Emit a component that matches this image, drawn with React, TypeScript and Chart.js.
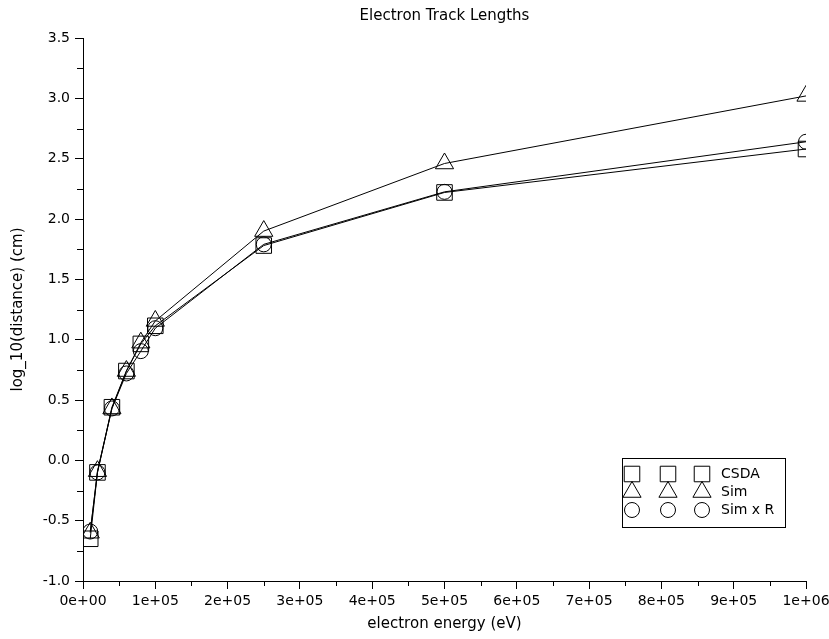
import React, { useEffect, useRef } from 'react';
import { Chart, registerables } from 'chart.js';
import { drawPoint } from 'chart.js/helpers';

Chart.register(...registerables);

// ---- data ----
const energies = [1e4, 2e4, 4e4, 6e4, 8e4, 1e5, 2.5e5, 5e5, 1e6];
const csdaValues = [-0.65, -0.1, 0.44, 0.74, 0.965, 1.115, 1.78, 2.22, 2.58];
const simValues = [-0.6, -0.09, 0.43, 0.74, 0.975, 1.155, 1.9, 2.46, 3.02];
const simRValues = [-0.59, -0.1, 0.43, 0.72, 0.905, 1.095, 1.79, 2.225, 2.64];
const seriesLabels = ['CSDA', 'Sim', 'Sim x R'];
const seriesStyles = ['rect', 'triangle', 'circle'];
const seriesRadius = [11, 10.5, 7.5];

const xTickLabels = ['0e+00', '1e+05', '2e+05', '3e+05', '4e+05', '5e+05', '6e+05', '7e+05', '8e+05', '9e+05', '1e+06'];
const yTickLabels = ['-1.0', '-0.5', '0.0', '0.5', '1.0', '1.5', '2.0', '2.5', '3.0', '3.5'];
const xMin = 0, xMax = 1e6, xStep = 1e5;
const yMin = -1, yMax = 3.5, yStep = 0.5;

const FONT = 'DejaVu Sans';

const minorTicks = {
  id: 'minorTicks',
  afterDraw(chart: any) {
    const { ctx, chartArea, scales } = chart;
    ctx.save();
    ctx.strokeStyle = '#000';
    ctx.lineWidth = 1;
    const xs = scales.x;
    for (let i = 0; i < xTickLabels.length - 1; i++) {
      const px = Math.round(xs.getPixelForValue(xMin + (i + 0.5) * xStep)) + 0.5;
      ctx.beginPath();
      ctx.moveTo(px, chartArea.bottom);
      ctx.lineTo(px, chartArea.bottom + 5);
      ctx.stroke();
    }
    const ys = scales.y;
    for (let i = 0; i < yTickLabels.length - 1; i++) {
      const py = Math.round(ys.getPixelForValue(yMin + (i + 0.5) * yStep)) + 0.5;
      ctx.beginPath();
      ctx.moveTo(chartArea.left, py);
      ctx.lineTo(chartArea.left - 6, py);
      ctx.stroke();
    }
    ctx.restore();
  },
};

const boxLegend = {
  id: 'boxLegend',
  afterDraw(chart: any) {
    const { ctx, chartArea } = chart;
    const right = chartArea.right - 21;
    const bottom = chartArea.bottom - 54;
    const w = 163, h = 69;
    const left = right - w, top = bottom - h;
    ctx.save();
    ctx.fillStyle = '#fff';
    ctx.fillRect(left, top, w, h);
    ctx.strokeStyle = '#000';
    ctx.lineWidth = 1;
    ctx.strokeRect(Math.round(left) + 0.5, Math.round(top) + 0.5, w, h);
    const cols = [10, 46, 80];
    chart.data.datasets.forEach((ds: any, i: number) => {
      const y = top + 16 + i * 18;
      ctx.strokeStyle = '#000';
      ctx.fillStyle = 'rgba(0,0,0,0)';
      ctx.lineWidth = 1;
      cols.forEach((c) => {
        drawPoint(ctx, { pointStyle: ds.pointStyle, radius: ds.pointRadius, rotation: 0, borderWidth: 1 } as any, left + c, y);
      });
      ctx.fillStyle = '#000';
      ctx.font = `14px "${FONT}"`;
      ctx.textBaseline = 'middle';
      ctx.textAlign = 'left';
      ctx.fillText(ds.label, left + 99, y);
    });
    ctx.restore();
  },
};

export default function App() {
  const ref = useRef<HTMLCanvasElement | null>(null);
  useEffect(() => {
    if (!ref.current) return;
    Chart.defaults.font.family = FONT;
    Chart.defaults.color = '#000';
    const all = [csdaValues, simValues, simRValues];
    const chart = new Chart(ref.current, {
      type: 'line',
      data: {
        datasets: all.map((vals, i) => ({
          label: seriesLabels[i],
          data: energies.map((e, j) => ({ x: e, y: vals[j] })),
          borderColor: '#000',
          borderWidth: 1,
          backgroundColor: 'rgba(0,0,0,0)',
          pointStyle: seriesStyles[i] as any,
          pointRadius: seriesRadius[i],
          pointBorderColor: '#000',
          pointBackgroundColor: 'rgba(0,0,0,0)',
          pointBorderWidth: 1,
          tension: 0,
          fill: false,
        })),
      },
      options: {
        responsive: false,
        animation: false,
        devicePixelRatio: 1,
        layout: { padding: { left: 0, right: 23, top: 0, bottom: 0 } },
        plugins: {
          legend: { display: false },
          tooltip: { enabled: false },
          title: {
            display: true,
            text: 'Electron Track Lengths',
            fullSize: false,
            color: '#000',
            font: { family: FONT, size: 15, weight: 'normal' },
            padding: { top: 7.5, bottom: 12.5 },
          },
        },
        scales: {
          x: {
            type: 'linear',
            min: xMin,
            max: xMax,
            afterFit: (s: any) => { s.height = 58; s.paddingRight = 0; s.paddingLeft = 0; },
            ticks: {
              stepSize: xStep,
              autoSkip: false,
              maxRotation: 0,
              padding: 4,
              color: '#000',
              font: { family: FONT, size: 14 },
              callback: (v: any) => xTickLabels[Math.round((Number(v) - xMin) / xStep)],
            },
            grid: { display: true, drawOnChartArea: false, drawTicks: true, tickLength: 8, color: '#000' },
            border: { display: true, color: '#000', width: 1 },
            title: {
              display: true,
              text: 'electron energy (eV)',
              color: '#000',
              font: { family: FONT, size: 15 },
              padding: { top: 0, bottom: 6 },
            },
          },
          y: {
            type: 'linear',
            min: yMin,
            max: yMax,
            afterFit: (s: any) => { s.width = 83; },
            ticks: {
              stepSize: yStep,
              autoSkip: false,
              padding: 5,
              color: '#000',
              font: { family: FONT, size: 14 },
              callback: (v: any) => yTickLabels[Math.round((Number(v) - yMin) / yStep)],
            },
            grid: { display: true, drawOnChartArea: false, drawTicks: true, tickLength: 8, color: '#000' },
            border: { display: true, color: '#000', width: 1 },
            title: {
              display: true,
              text: 'log_10(distance) (cm)',
              color: '#000',
              font: { family: FONT, size: 15 },
              padding: { top: 9.5, bottom: 0 },
            },
          },
        },
      },
      plugins: [minorTicks, boxLegend],
    });
    return () => chart.destroy();
  }, []);
  return (
    <div style={{ position: 'absolute', left: 0, top: 0, width: 829, height: 639, background: '#fff' }}>
      <canvas ref={ref} width={829} height={639} style={{ display: 'block' }} />
    </div>
  );
}
